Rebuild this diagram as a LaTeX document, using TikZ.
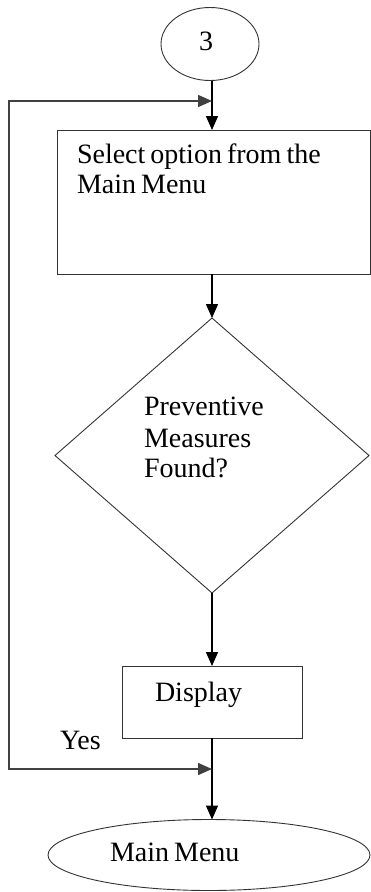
\documentclass[tikz,border=0pt]{standalone}
\usepackage{fontspec}
\setmainfont{Liberation Serif}
\usetikzlibrary{shapes.geometric,arrows.meta}
\newcommand\chartfont{\fontsize{28}{30}\selectfont\spaceskip=0.18em\relax}
\begin{document}
\begin{tikzpicture}[x=1pt,y=-1pt,
  outline/.style={draw=black!80, line width=0.9pt, inner sep=0pt, outer sep=0pt},
  flow/.style={draw=black, line width=1.5pt, -{Triangle[length=14pt,width=12pt]}},
  loopback/.style={draw=black!75, line width=1.5pt,
    {Triangle[length=14pt,width=12pt]}-{Triangle[length=14pt,width=12pt]}},
  lbl/.style={anchor=base west, inner sep=0pt, outer sep=0pt, font=\chartfont},
]
\useasboundingbox (0,0) rectangle (371,892);

% flowchart shapes
\node[outline, ellipse, minimum width=98pt, minimum height=73pt] (start) at (210,44) {};
\node[outline, rectangle, minimum width=313pt, minimum height=144pt] (select) at (213.5,202) {};
\node[outline, diamond, minimum width=314pt, minimum height=275pt] (check) at (212,455.5) {};
\node[outline, rectangle, minimum width=180pt, minimum height=72pt] (display) at (212,702) {};
\node[outline, ellipse, minimum width=322pt, minimum height=71pt] (menu) at (209,855) {};

% texts
\node[lbl] (t3) at (199,50) {3};
\node[lbl] (sel1) at (77,163) {Select option from the};
\node[lbl] (sel2) at (77,193) {Main Menu};
\node[lbl] (chk1) at (144,415) {Preventive};
\node[lbl] (chk2) at (144,447) {Measures};
\node[lbl] (chk3) at (144,477) {Found?};
\node[lbl] (disp) at (155,701) {Display};
\node[lbl] (yes) at (60,749) {Yes};
\node[lbl] (mm) at (110,861) {Main Menu};

% loop-back line joining the main flow
\coordinate (jtop) at (212,101);
\coordinate (jbot) at (212,769);
\coordinate (ltop) at (9,101);
\coordinate (lbot) at (9,769);

% connectors
\draw[flow] (start.south -| check.north) -- (select.north -| check.north);
\draw[flow] (select.south -| check.north) -- (check.north);
\draw[flow] (check.south) -- (display.north);
\draw[flow] (display.south) -- (display.south |- menu.north);
\draw[loopback] (jbot) -- (lbot) -- (ltop) -- (jtop);
\end{tikzpicture}
\end{document}
